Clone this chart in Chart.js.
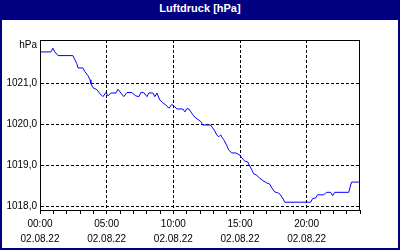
<!DOCTYPE html>
<html>
<head>
<meta charset="utf-8">
<script src="https://cdn.jsdelivr.net/npm/chart.js@4"></script>
<style>
  html, body { margin: 0; padding: 0; }
  #frame { position: relative; width: 400px; height: 250px; background: #000080; }
  #title { position: absolute; left: 0; top: 2px; width: 400px; height: 18px; line-height: 18px;
           text-align: center; color: #fff; font: bold 11px "Liberation Sans", Arial, sans-serif; }
  #box { position: absolute; left: 2px; top: 20px; width: 396px; height: 228px; background: #fff; }
</style>
</head>
<body>
<div id="frame">
  <div id="title">Luftdruck [hPa]</div>
  <div id="box"><canvas id="myChart" width="396" height="228"></canvas></div>
</div>
<script>
// time of day in minutes (02.08.22)
let minutes = [0, 49, 58, 67, 81, 148, 157, 166, 171, 193, 202, 216, 225, 229, 238, 256, 270, 283, 297, 306,
  319, 342, 351, 364, 377, 391, 413, 431, 445, 454, 467, 481, 490, 508, 517, 526, 539, 553, 566, 580,
  593, 607, 616, 643, 652, 661, 670, 679, 688, 701, 715, 724, 733, 768, 777, 786, 795, 804, 813, 818,
  827, 840, 849, 863, 881, 899, 908, 921, 935, 944, 953, 962, 975, 989, 1002, 1020, 1034, 1043, 1056, 1070,
  1079, 1092, 1101, 1218, 1227, 1240, 1249, 1276, 1290, 1308, 1317, 1326, 1389, 1402, 1438];
let pressure = [1021.77, 1021.77, 1021.86, 1021.77, 1021.68, 1021.68, 1021.58, 1021.48, 1021.38, 1021.38,
  1021.29, 1021.19, 1021.09, 1021.00, 1020.90, 1020.85, 1020.75, 1020.68, 1020.78, 1020.70,
  1020.77, 1020.77, 1020.86, 1020.77, 1020.68, 1020.78, 1020.78, 1020.70, 1020.68, 1020.78,
  1020.78, 1020.68, 1020.77, 1020.77, 1020.68, 1020.77, 1020.60, 1020.53, 1020.48, 1020.40,
  1020.49, 1020.43, 1020.38, 1020.38, 1020.31, 1020.39, 1020.38, 1020.31, 1020.24, 1020.16,
  1020.11, 1020.07, 1019.99, 1019.99, 1019.92, 1019.85, 1019.75, 1019.70, 1019.75, 1019.70,
  1019.63, 1019.50, 1019.38, 1019.31, 1019.31, 1019.26, 1019.19, 1019.11, 1019.09, 1018.99,
  1018.90, 1018.80, 1018.77, 1018.69, 1018.64, 1018.58, 1018.55, 1018.46, 1018.36, 1018.34,
  1018.31, 1018.21, 1018.11, 1018.11, 1018.20, 1018.21, 1018.29, 1018.29, 1018.35, 1018.35,
  1018.27, 1018.35, 1018.35, 1018.60, 1018.60];
let dateLabel = '02.08.22';
let unitLabel = 'hPa';

let font = { family: '"Liberation Sans", Arial, sans-serif', size: 10, lineHeight: 1.47 };

// box around the plot + unit text
let framePlugin = {
  id: 'frame',
  afterDraw(chart) {
    let a = chart.chartArea, c = chart.ctx;
    c.save();
    c.strokeStyle = '#000';
    c.lineWidth = 1;
    c.strokeRect(Math.round(a.left) + 0.5, Math.round(a.top) + 0.5,
      Math.round(a.right - a.left) - 1, Math.round(a.bottom - a.top));
    c.fillStyle = '#000';
    c.font = '10px "Liberation Sans", Arial, sans-serif';
    c.textAlign = 'right';
    c.textBaseline = 'middle';
    c.fillText(unitLabel, a.left - 3, a.top + 5);
    c.restore();
  }
};

let myChart = new Chart(document.getElementById('myChart').getContext('2d'), {
  type: 'line',
  data: {
    datasets: [{
      data: minutes.map((m, i) => ({ x: m, y: pressure[i] })),
      borderColor: '#0000ff',
      borderWidth: 1,
      pointRadius: 0,
      tension: 0,
      fill: false
    }]
  },
  options: {
    responsive: false,
    animation: false,
    layout: { padding: { left: 0, top: 20, right: 38, bottom: 0 } },
    plugins: { legend: { display: false }, tooltip: { enabled: false } },
    scales: {
      x: {
        type: 'linear',
        min: 0,
        max: 1440,
        afterFit: (s) => { s.height = 38; },
        ticks: {
          stepSize: 60,
          autoSkip: false,
          maxRotation: 0,
          includeBounds: false,
          padding: 3,
          color: '#000',
          font: font,
          callback: (v) => (v % 300 === 0 && v < 1440)
            ? [String(v / 60).padStart(2, '0') + ':00', dateLabel] : ''
        },
        grid: {
          color: (ctx) => (ctx.tick && ctx.tick.value % 300 === 0 && ctx.tick.value > 0 && ctx.tick.value < 1440) ? '#000' : 'rgba(0,0,0,0)',
          tickColor: '#000',
          tickLength: 4,
          tickBorderDash: [],
          drawTicks: true
        },
        border: { color: '#000', dash: [3, 2] }
      },
      y: {
        min: 1017.92,
        max: 1022.06,
        afterFit: (s) => { s.width = 38; },
        ticks: {
          stepSize: 1,
          includeBounds: false,
          padding: 3,
          color: '#000',
          font: font,
          callback: (v) => v > 1021.5 ? null : v.toFixed(1).replace('.', ',')
        },
        grid: { color: '#000', drawTicks: false },
        border: { color: '#000', dash: [3, 2] }
      }
    }
  },
  plugins: [framePlugin]
});
</script>
</body>
</html>
